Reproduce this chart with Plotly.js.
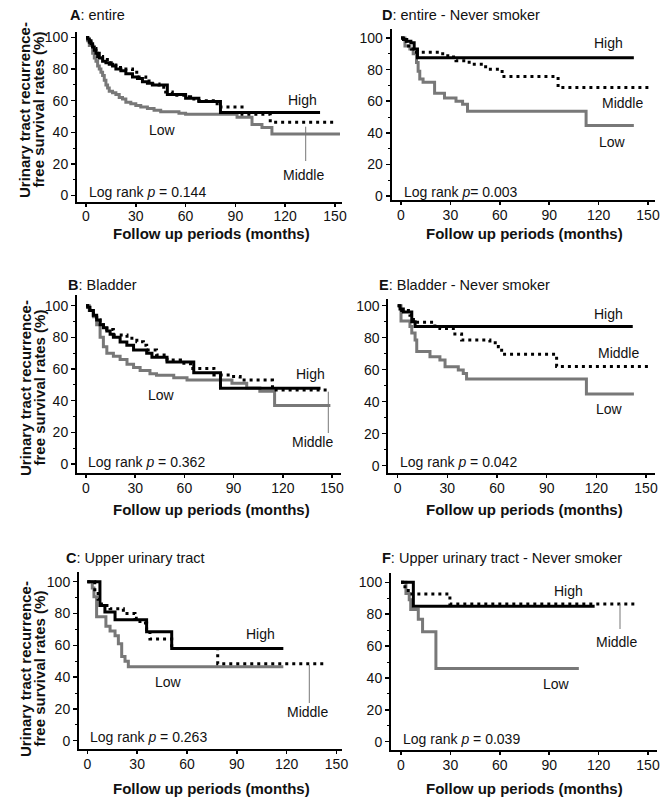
<!DOCTYPE html>
<html><head><meta charset="utf-8">
<script src="https://cdn.plot.ly/plotly-3.0.1.min.js"></script>
<style>html,body{margin:0;padding:0;background:#fff}#chart{width:669px;height:804px}</style>
</head><body><div id="chart"></div>
<script>
// ================= DATA =================
const panelLetters = ["A", "B", "C", "D", "E", "F"];
const panelNames = ["entire", "Bladder", "Upper urinary tract",
  "entire - Never smoker", "Bladder - Never smoker", "Upper urinary tract - Never smoker"];
const pValues = ["0.144", "0.362", "0.263", "0.003", "0.042", "0.039"];
const groupNames = ["Low", "High", "Middle"];
const xTickVals = [0, 30, 60, 90, 120, 150];
const yTickVals = [0, 20, 40, 60, 80, 100];
const yMinorTickVals = [10, 30, 50, 70, 90];
const xTitle = "Follow up periods (months)";
const yTitleLine1 = "Urinary tract recurrence-";
const yTitleLine2 = "free survival rates (%)";

// A: entire
const A_high_t = [0, 1, 2, 3, 4, 5, 6, 7, 8, 10, 12, 14, 16, 18, 21, 24, 28, 31, 34, 37, 40, 49, 60, 68, 81, 141];
const A_high_s = [100, 99, 98, 96, 94, 92, 90, 88, 87, 85, 84, 83, 82, 80, 79, 77, 75, 74, 72, 71, 70, 64, 61.5, 59.5, 52.5, 52.5];
const A_mid_t = [0, 1, 2, 3, 4, 6, 8, 10, 14, 18, 22, 28, 32, 36, 40, 44, 48, 52, 60, 63, 68, 79, 94, 111, 150];
const A_mid_s = [100, 99, 97, 95, 93, 90, 88, 86, 84, 81, 80, 78, 75, 72.5, 70.5, 68.5, 65.5, 63.5, 62.5, 61, 60, 56, 51.5, 46.3, 46.3];
const A_low_t = [0, 1, 2, 4, 5, 6, 7, 8, 9, 10, 11, 12, 13, 14, 16, 18, 20, 22, 24, 27, 30, 33, 37, 41, 45, 56, 60, 91, 100, 106, 112, 153];
const A_low_s = [100, 98, 95, 90, 87, 85, 82, 80, 78, 76, 73, 70, 68, 66, 65, 64, 62, 61, 59, 58, 57, 56, 55, 54, 53, 52, 51.5, 49.5, 45, 43, 39, 39];

// B: Bladder
const B_high_t = [0, 1, 2.4, 4.5, 6.5, 8.6, 10.6, 12.7, 14.7, 16.7, 20.8, 24.9, 29, 37, 40.2, 49.4, 65.7, 82, 143];
const B_high_s = [100, 99, 97, 94, 91, 88, 86, 84, 82, 80, 77, 75, 72, 70, 67.5, 64.5, 57.7, 47.8, 47.8];
const B_mid_t = [0, 1, 2.4, 4.5, 6.5, 8.6, 12.7, 16.7, 25, 31, 35, 37, 43, 49.4, 57.6, 63.7, 78, 88, 94, 113.7, 149];
const B_mid_s = [100, 99, 97, 94, 91, 88, 85, 81.5, 79.4, 77.3, 75, 72, 68.8, 65.7, 63.6, 60.4, 56.2, 55.2, 53, 46.7, 46.7];
const B_low_t = [0, 2, 4.5, 6.5, 8.6, 10.6, 12.7, 16.7, 20.8, 25, 29, 33, 39, 43, 53.5, 61.6, 89, 98, 106, 115, 149];
const B_low_s = [100, 97, 93, 88, 80, 74, 70, 68, 66, 63, 61, 59, 57, 56, 54.5, 53, 51, 48, 46, 37, 37];

// C: Upper urinary tract
const C_high_t = [0, 7.6, 10.6, 16.7, 35.7, 50.8, 118];
const C_high_s = [100, 85, 81, 76, 68.5, 58, 58];
const C_mid_t = [0, 4.5, 6.5, 8.5, 13.7, 21.7, 28.7, 31.7, 35.7, 37.7, 50.8, 78.5, 143];
const C_mid_s = [100, 95, 89, 85, 83, 80, 77, 74, 70, 64, 58, 48.4, 48.4];
const C_low_t = [0, 3, 4, 5.6, 11.2, 13.7, 16.7, 18.7, 20.7, 22.7, 24.7, 118];
const C_low_s = [100, 96, 90.5, 78, 72, 69, 66, 61, 53, 50, 46.5, 46.5];

// D: entire - Never smoker
const D_high_t = [0, 1.5, 3.5, 6, 8, 10, 141.4];
const D_high_s = [100, 99, 98, 97, 93, 87.5, 87.5];
const D_mid_t = [0, 2, 3.4, 6.4, 9.4, 23.4, 28.4, 33.4, 41.4, 51.4, 61.4, 95.4, 152.4];
const D_mid_s = [100, 98, 95, 93, 91, 90, 88, 85.6, 83.4, 80.3, 75.6, 68.6, 68.6];
const D_low_t = [0, 2.4, 5.4, 7.4, 9.4, 10.4, 11.4, 13.4, 20.4, 26.4, 33.4, 37.4, 40.4, 112.4, 141.4];
const D_low_s = [100, 95, 93, 90, 84.5, 79, 74, 72, 65, 62, 60, 58, 53.7, 44.6, 44.6];

// E: Bladder - Never smoker
const E_high_t = [0, 1.4, 3.4, 8.5, 10.5, 142];
const E_high_s = [100, 98, 96, 90, 87, 87];
const E_mid_t = [0, 2.4, 7.4, 9.5, 21.5, 25.5, 33.6, 38.6, 55.7, 60.8, 62.8, 96, 153];
const E_mid_s = [100, 97, 94, 89.6, 87.3, 85.8, 82.3, 78.5, 76.9, 74.4, 69.6, 62, 62];
const E_low_t = [0, 2, 7.4, 8.5, 10.5, 11.5, 19.5, 25.5, 28.6, 36.6, 39.6, 41.6, 114, 142.7];
const E_low_s = [100, 90.4, 87, 83, 78.5, 71.3, 68.1, 66, 61.9, 59.8, 57.7, 54.2, 44.8, 44.8];

// F: Upper urinary tract - Never smoker
const F_high_t = [0, 7.5, 117.6];
const F_high_s = [100, 85, 85];
const F_mid_t = [0, 2.4, 4.4, 29.7, 142.4];
const F_mid_s = [100, 96, 92.7, 86.4, 86.4];
const F_low_t = [0, 3, 5, 5.9, 10.5, 13.1, 21.2, 108];
const F_low_s = [100, 93, 89, 83, 76.8, 69, 46, 46];

// ================= LAYOUT (positions in px) =================
const W = 669, H = 804;
const FONT = "Liberation Sans, Arial, Helvetica, sans-serif";
const TXT = "#111";
const GRAY = "#787878";

// per-panel pixel geometry: axis extents and where 0/150 months and 0/100 % fall
const geom = [
  {xl: 77,  xr: 342, x0: 86,    x150: 335,  yt: 32,  yb: 201.5, y100: 37.5,  y0: 195.5},
  {xl: 77,  xr: 341, x0: 86,    x150: 332,  yt: 295, yb: 473,   y100: 305.7, y0: 464},
  {xl: 79,  xr: 342, x0: 87.3,  x150: 336.5,yt: 572, yb: 749,   y100: 581.7, y0: 740.7},
  {xl: 391.7,xr: 655,x0: 401,   x150: 648,  yt: 28.5,yb: 200,   y100: 38,    y0: 196},
  {xl: 388.3,xr: 655,x0: 397.7, x150: 646,  yt: 299, yb: 473,   y100: 305.7, y0: 465.7},
  {xl: 391, xr: 656.7,x0: 401,  x150: 648,  yt: 573.3,yb: 750,  y100: 582.3, y0: 741.7}
];

const series = {
  A: [[A_low_t, A_low_s], [A_high_t, A_high_s], [A_mid_t, A_mid_s]],
  B: [[B_low_t, B_low_s], [B_high_t, B_high_s], [B_mid_t, B_mid_s]],
  C: [[C_low_t, C_low_s], [C_high_t, C_high_s], [C_mid_t, C_mid_s]],
  D: [[D_low_t, D_low_s], [D_high_t, D_high_s], [D_mid_t, D_mid_s]],
  E: [[E_low_t, E_low_s], [E_high_t, E_high_s], [E_mid_t, E_mid_s]],
  F: [[F_low_t, F_low_s], [F_high_t, F_high_s], [F_mid_t, F_mid_s]]
};
const lineStyles = {
  Low: {color: GRAY, width: 3, dash: "solid"},
  High: {color: "#000", width: 3, dash: "solid"},
  Middle: {color: "#000", width: 3, dash: "3px,4px"}
};

const px = x => x / W;
const py = y => 1 - y / H;

const data = [];
const layout = {
  width: W, height: H,
  margin: {l: 0, r: 0, t: 0, b: 0},
  paper_bgcolor: "#fff", plot_bgcolor: "#fff",
  showlegend: false,
  font: {family: FONT, size: 14, color: TXT},
  annotations: [], shapes: []
};

panelLetters.forEach((L, i) => {
  const g = geom[i];
  const sx = (g.x150 - g.x0) / 150;
  const sy = (g.y0 - g.y100) / 100;
  const xr = [(g.xl - g.x0) / sx, (g.xr - g.x0) / sx];
  const yr = [-(g.yb - g.y0) / sy, 100 + (g.y100 - g.yt) / sy];
  const suf = i === 0 ? "" : String(i + 1);
  const axCommon = {
    showline: true, linecolor: "#000", linewidth: 2, mirror: false,
    ticks: "outside", ticklen: 4, tickwidth: 1.5, tickcolor: "#000",
    showgrid: false, zeroline: false, fixedrange: true,
    tickfont: {family: FONT, size: 14, color: TXT}
  };
  layout["xaxis" + suf] = Object.assign({}, axCommon, {
    domain: [px(g.xl), px(g.xr)], range: xr, anchor: "y" + suf,
    tickmode: "array", tickvals: xTickVals, ticktext: xTickVals.map(String),
    ticklen: 3, ticklabelstandoff: -2
  });
  layout["yaxis" + suf] = Object.assign({}, axCommon, {
    domain: [py(g.yb), py(g.yt)], range: yr, anchor: "x" + suf,
    tickmode: "array", tickvals: yTickVals, ticktext: yTickVals.map(String),
    minor: {tickmode: "array", tickvals: yMinorTickVals, ticks: "outside", ticklen: 2, tickwidth: 1, tickcolor: "#000"}
  });
  series[L].forEach((ser, k) => {
    const name = groupNames[k];
    data.push({
      type: "scatter", mode: "lines", name: name,
      x: ser[0], y: ser[1], xaxis: "x" + suf, yaxis: "y" + suf,
      line: Object.assign({shape: "hv"}, lineStyles[name]),
      hoverinfo: "skip"
    });
  });
});

function ann(x, y, text, o) {
  return Object.assign({
    xref: "paper", yref: "paper", x: px(x), y: py(y), text: text,
    showarrow: false, xanchor: "center", yanchor: "middle",
    font: {family: FONT, size: 14, color: TXT}
  }, o || {});
}

// panel titles
const titlePos = [[68.3, 15], [65.7, 285], [64, 558.3], [380, 15], [376.7, 285], [380, 558.3]];
titlePos.forEach((p, i) => {
  layout.annotations.push(ann(p[0], p[1], "<b>" + panelLetters[i] + "</b>: " + panelNames[i],
    {xanchor: "left", font: {family: FONT, size: 14.5, color: TXT}}));
});
// log rank
const lrPos = [[86.7, 191.7], [86, 461.7], [88.3, 737.3], [401.7, 191.7], [398.3, 461.7], [401, 739]];
lrPos.forEach((p, i) => {
  const eq = i === 3 ? "= " : " = ";
  layout.annotations.push(ann(p[0], p[1], "Log rank <i>p</i>" + eq + pValues[i], {xanchor: "left"}));
});
// group labels [High, Middle, Low]
const lblPos = [
  [[302, 100], [303, 175], [162, 130]],
  [[310, 374.3], [312, 441.7], [161, 395]],
  [[260, 634], [307.5, 711.7], [168, 681.7]],
  [[608, 43.3], [622.5, 103.3], [612.5, 141.7]],
  [[608, 314], [618, 353.3], [609, 409.3]],
  [[568, 591], [616, 641.7], [556, 684.3]]
];
const lblNames = ["High", "Middle", "Low"];
lblPos.forEach(row => row.forEach((p, k) => layout.annotations.push(ann(p[0], p[1], lblNames[k]))));
// leader lines for "Middle"
const leaders = [[305.7, 126.7, 161], [328.3, 391.7, 433], [309.3, 665, 703], [620, 604, 629]];
leaders.forEach(l => layout.shapes.push({
  type: "line", xref: "paper", yref: "paper",
  x0: px(l[0]), x1: px(l[0]), y0: py(l[1]), y1: py(l[2]),
  line: {color: "#777", width: 1}
}));
// axis titles
const xTitlePos = [[211, 233.5], [211, 509], [211, 788], [524, 233.5], [524, 509], [524, 788]];
xTitlePos.forEach(p => layout.annotations.push(ann(p[0], p[1], "<b>" + xTitle + "</b>",
  {font: {family: FONT, size: 15, color: TXT}})));
const yTitleRows = [110, 388, 669];
yTitleRows.forEach(yc => {
  layout.annotations.push(ann(25, yc, "<b>" + yTitleLine1 + "</b>", {textangle: -90, font: {family: FONT, size: 15, color: TXT}}));
  layout.annotations.push(ann(38.5, yc, "<b>" + yTitleLine2 + "</b>", {textangle: -90, font: {family: FONT, size: 15, color: TXT}}));
});

Plotly.newPlot("chart", data, layout, {staticPlot: true, displayModeBar: false});
</script>
</body></html>
